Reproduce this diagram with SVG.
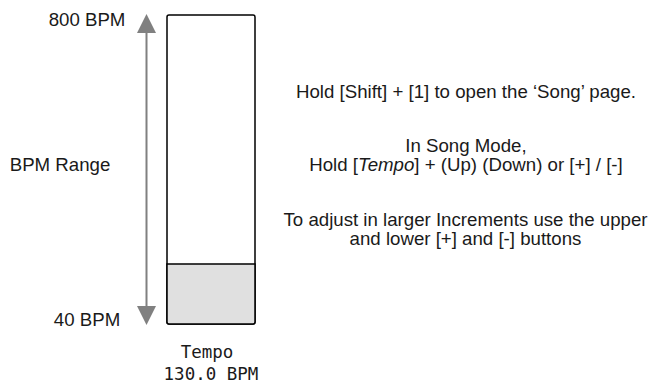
<svg xmlns="http://www.w3.org/2000/svg" width="650" height="385" viewBox="0 0 650 385">
<style>
.t{font-family:"Liberation Sans",Arial,sans-serif;font-size:18.67px;fill:#1a1a1a;text-anchor:middle}
.m{font-family:"DejaVu Sans Mono",monospace;font-size:17.5px;fill:#1a1a1a;text-anchor:middle}
</style>
<rect width="650" height="385" fill="#ffffff"/>
<g id="connectors">
<line x1="146.5" y1="32" x2="146.5" y2="307" stroke="#808080" stroke-width="2"/>
<polygon points="146.5,14 137,33 156,33" fill="#808080"/>
<polygon points="146.5,325 137,306 156,306" fill="#808080"/>
</g>
<g id="bar">
<rect x="167" y="15" width="88" height="309" rx="2" fill="#ffffff" stroke="#000000" stroke-width="1.5"/>
<path d="M167,264 H255 V322 a2,2 0 0 1 -2,2 H169 a2,2 0 0 1 -2,-2 Z" fill="#e0e0e0" stroke="#000000" stroke-width="1.5"/>
</g>
<g id="labels-left">
<text class="t" x="87" y="26">800 BPM</text>
<text class="t" x="60" y="171">BPM Range</text>
<text class="t" x="87" y="326">40 BPM</text>
</g>
<g id="tempo-label">
<text class="m" x="207" y="358">Tempo</text>
<text class="m" x="211" y="380">130.0 BPM</text>
</g>
<g id="instructions">
<text class="t" x="466" y="98">Hold [Shift] + [1] to open the ‘Song’ page.</text>
<text class="t" x="466" y="152">In Song Mode,</text>
<text class="t" x="466" y="171">Hold [<tspan font-style="italic">Tempo</tspan>] + (Up) (Down) or [+] / [-]</text>
<text class="t" x="465.5" y="226">To adjust in larger Increments use the upper</text>
<text class="t" x="465.5" y="245">and lower [+] and [-] buttons</text>
</g>
</svg>
